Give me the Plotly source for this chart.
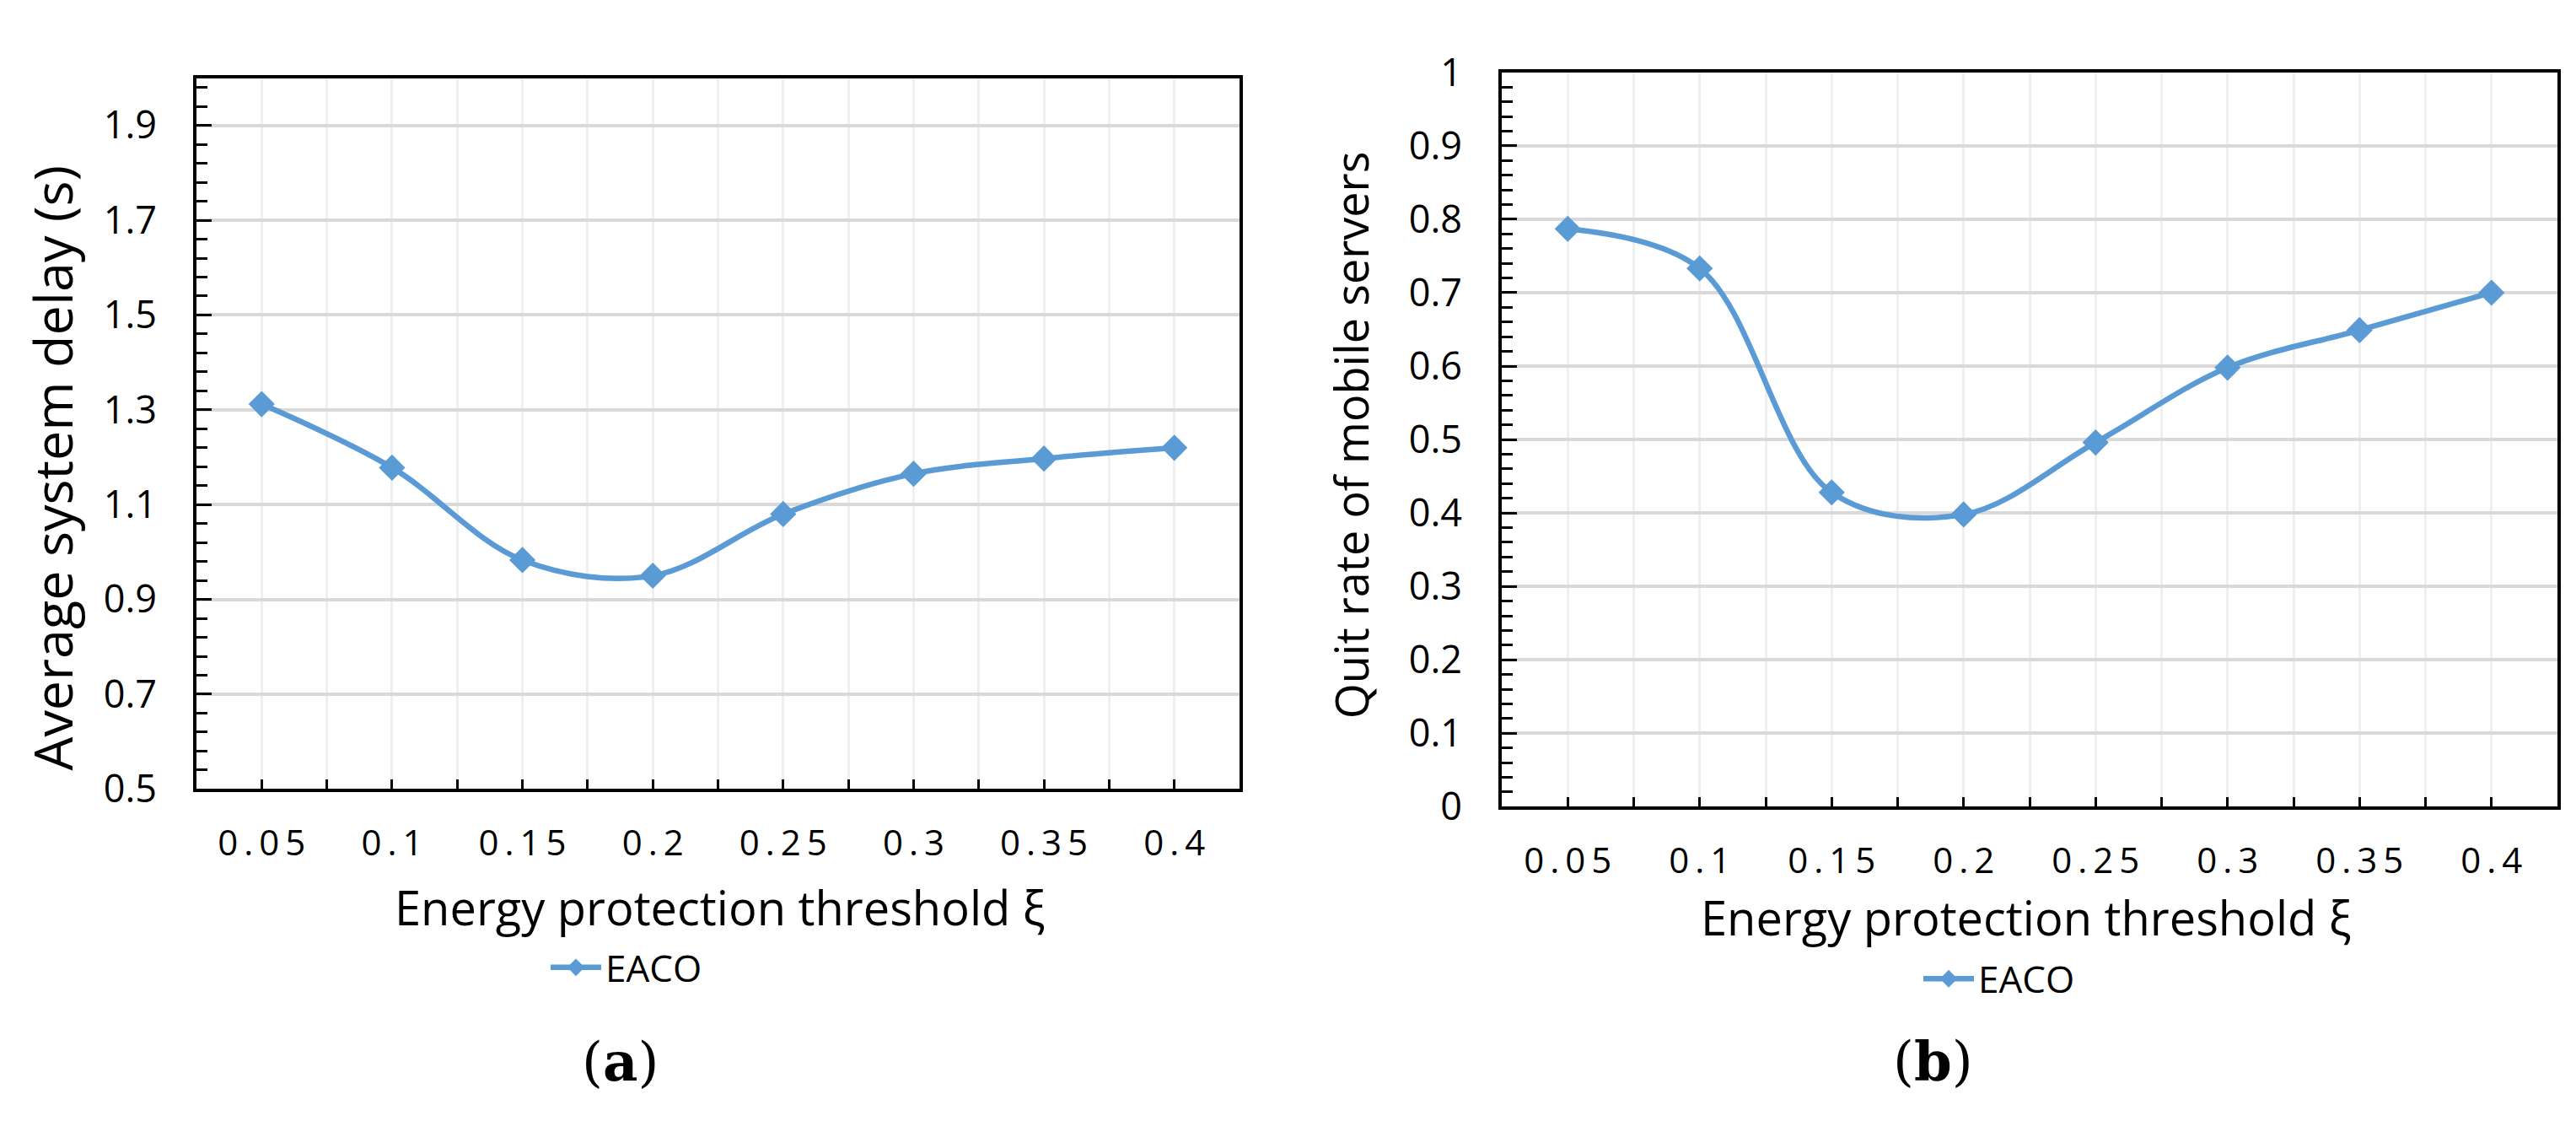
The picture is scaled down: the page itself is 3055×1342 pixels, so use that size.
import plotly.graph_objects as go

# ---- data ----
x_labels = ["0.05", "0.1", "0.15", "0.2", "0.25", "0.3", "0.35", "0.4"]
delay = [1.312, 1.178, 0.983, 0.950, 1.080, 1.165, 1.197, 1.220]
quit_rate = [0.787, 0.733, 0.428, 0.398, 0.496, 0.598, 0.649, 0.700]
series_name = "EACO"

W, H = 3055, 1342
BLUE = "#5B9BD5"
FONT = "Open Sans"

xs = list(range(len(x_labels)))
half_vals = [i / 2 for i in range(0, 2 * (len(x_labels) - 1) + 1)]
spaced = ["\u2009".join(list(s)) for s in x_labels]
half_text = [spaced[int(v)] if float(v).is_integer() else "" for v in half_vals]

def px(x):
    return x / W

def py(y):
    return 1 - y / H

fig = go.Figure()
fig.add_trace(go.Scatter(
    x=xs, y=delay, name=series_name, mode="lines+markers",
    line=dict(color=BLUE, width=6.5, shape="spline", smoothing=1),
    marker=dict(symbol="diamond", size=24, color=BLUE),
    xaxis="x", yaxis="y", legend="legend"))
fig.add_trace(go.Scatter(
    x=xs, y=quit_rate, name=series_name, mode="lines+markers",
    line=dict(color=BLUE, width=6.5, shape="spline", smoothing=1),
    marker=dict(symbol="diamond", size=24, color=BLUE),
    xaxis="x2", yaxis="y2", legend="legend2"))

def xaxis_cfg(domain, anchor):
    return dict(
        domain=domain, anchor=anchor, range=[-0.5, len(x_labels) - 0.5],
        tickmode="array", tickvals=half_vals, ticktext=half_text,
        ticks="inside", ticklen=11, tickwidth=3, tickcolor="black",
        showline=True, linecolor="black", linewidth=4, mirror=True,
        showgrid=True, gridcolor="#EFEFEF", gridwidth=3,
        zeroline=False, ticklabelstandoff=24,
        tickfont=dict(family=FONT, size=42, color="black"),
        fixedrange=True)

def yaxis_cfg(domain, anchor, rng, tick0, dtick, mdtick):
    return dict(
        domain=domain, anchor=anchor, range=rng,
        tick0=tick0, dtick=dtick,
        ticks="inside", ticklen=18, tickwidth=3, tickcolor="black",
        showline=True, linecolor="black", linewidth=4, mirror=True,
        showgrid=True, gridcolor="#D9D9D9", gridwidth=3.5,
        zeroline=False, ticklabelstandoff=34,
        tickfont=dict(family=FONT, size=45, color="black"),
        minor=dict(tick0=tick0, dtick=mdtick, ticks="inside", ticklen=13,
                   tickwidth=3, tickcolor="black", showgrid=False),
        fixedrange=True)

a_x = [px(225), px(1462)]
a_y = [py(938), py(55)]
b_x = [px(1773), px(3025)]
b_y = [py(960), py(48)]

legend_common = dict(orientation="h", bgcolor="rgba(0,0,0,0)",
                     font=dict(family=FONT, size=44, color="black"),
                     xanchor="left", yanchor="middle", itemwidth=60)

fig.update_layout(
    width=W, height=H, autosize=False,
    margin=dict(l=0, r=0, t=0, b=0),
    paper_bgcolor="white", plot_bgcolor="white",
    xaxis=xaxis_cfg(a_x, "y"),
    yaxis=yaxis_cfg(a_y, "x", [0.5, 2.0], 0.5, 0.2, 0.04),
    xaxis2=xaxis_cfg(b_x, "y2"),
    yaxis2=yaxis_cfg(b_y, "x2", [0, 1], 0, 0.1, 0.02),
    legend=dict(x=px(640), y=py(1160), **legend_common),
    legend2=dict(x=px(2268), y=py(1174), **legend_common),
    showlegend=True,
)

title_font = dict(family=FONT, size=56, color="black")
annos = [
    dict(text="Energy protection threshold ξ", x=px(845), y=py(1084), font=title_font),
    dict(text="Energy protection threshold ξ", x=px(2394), y=py(1097), font=title_font),
    dict(text="Average system delay (s)", x=px(53), y=py(540),
         font=dict(family=FONT, size=63, color="black"), textangle=-90),
    dict(text="Quit rate of mobile servers", x=px(1594), y=py(499),
         font=dict(family=FONT, size=54, color="black"), textangle=-90),
    dict(text="(<b>a</b>)", x=px(727), y=py(1277),
         font=dict(family="DejaVu Serif, Liberation Serif, serif", size=64, color="black")),
    dict(text="(<b>b</b>)", x=px(2284), y=py(1275),
         font=dict(family="DejaVu Serif, Liberation Serif, serif", size=64, color="black")),
]
for a in annos:
    a.update(xref="paper", yref="paper", showarrow=False, xanchor="center", yanchor="middle")
fig.update_layout(annotations=annos)

fig.write_html("out.html")
